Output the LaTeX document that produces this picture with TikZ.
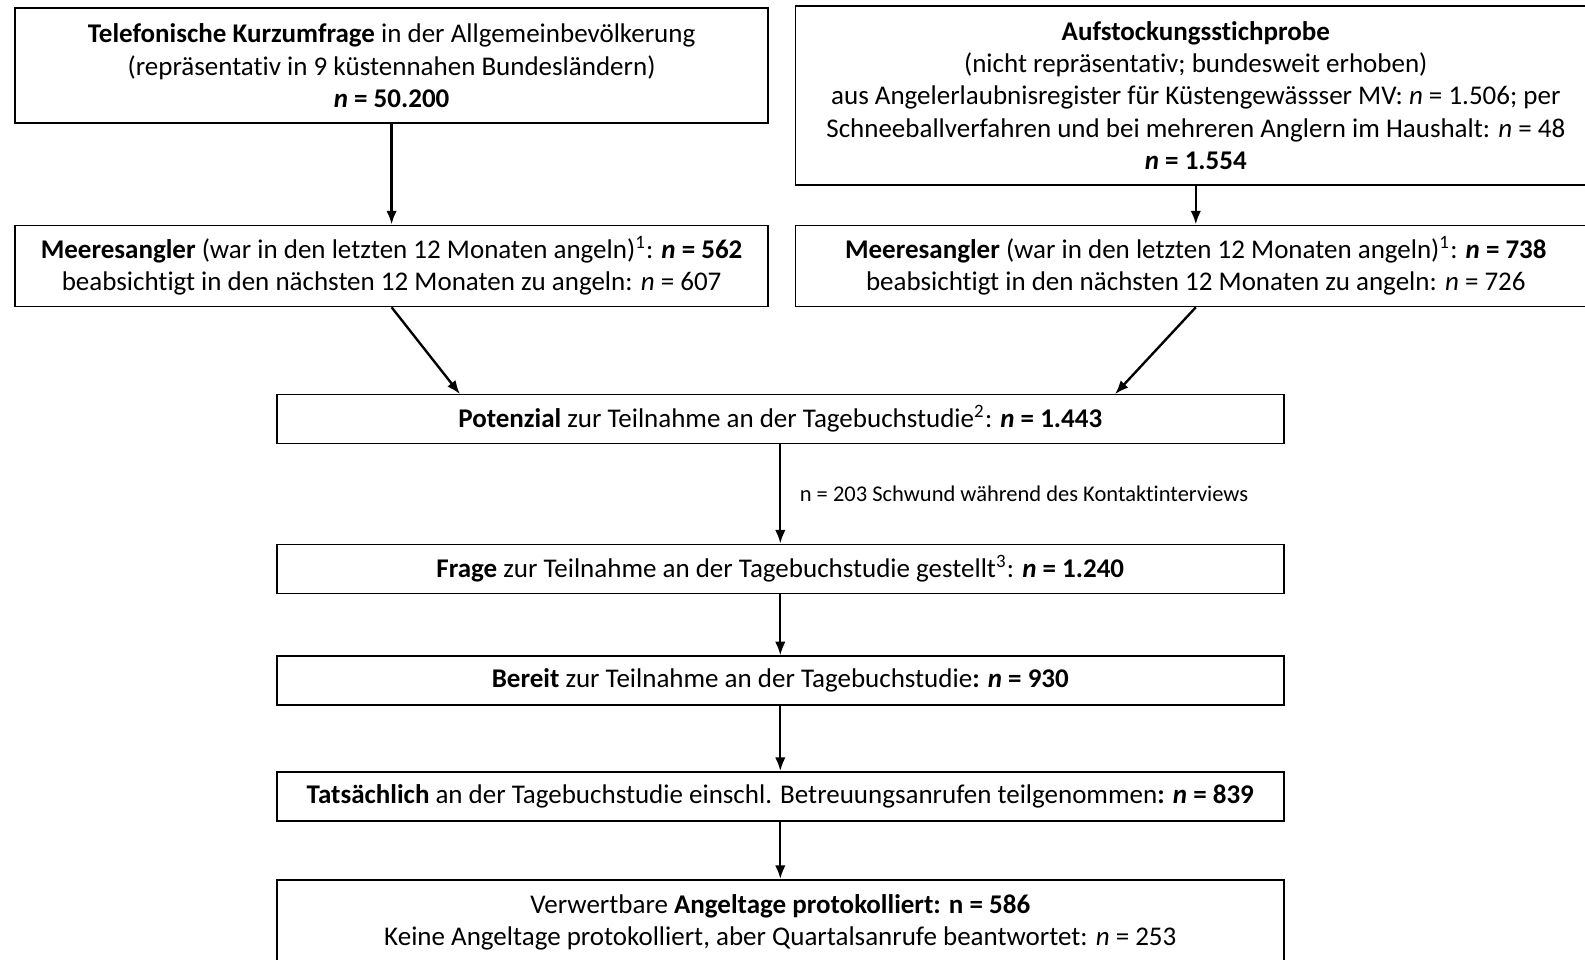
\documentclass[tikz,border=0pt]{standalone}
\usepackage{fontspec}
\setmainfont{Carlito}[Ligatures={NoCommon}]
\usetikzlibrary{arrows.meta}

\begin{document}
\begin{tikzpicture}[x=0.4pt, y=-0.4pt, >={Latex[length=5.5pt,width=4.2pt]}, line width=0.7pt,
	stage/.style={draw, rectangle, align=center, inner sep=0pt, font=\fontsize{10.8}{12.9}\selectfont},
	wide/.style={stage, minimum width=402.7pt, minimum height=19.6pt},
	flow/.style={->, line width=0.95pt}]
			\useasboundingbox (0,0) rectangle (1585,959);
			\clip (0,0) rectangle (1585,959);
			
			\node[stage, minimum width=301.2pt, minimum height=46pt] (tel) at (391.6,65.7) {\textbf{Telefonische Kurzumfrage} in der Allgemeinbevölkerung\\(repräsentativ in 9 küstennahen Bundesländern)\\\textbf{\textit{n} = 50.200}};
			\node[stage, minimum width=320.2pt, minimum height=71.6pt] (auf) at (1195.8,95.5) {\textbf{Aufstockungsstichprobe}\\(nicht repräsentativ; bundesweit erhoben)\\aus Angelerlaubnisregister für Küstengewässser MV: \textit{n} = 1.506; per\\Schneeballverfahren und bei mehreren Anglern im Haushalt: \textit{n} = 48\\\textbf{\textit{n} = 1.554}};
			
			\node[stage, minimum width=301.2pt, minimum height=32.4pt] (ml) at (391.6,265.9) {\textbf{Meeresangler} (war in den letzten 12 Monaten angeln)\textsuperscript{1}: \textbf{\textit{n} = 562}\\beabsichtigt in den nächsten 12 Monaten zu angeln: \textit{n} = 607};
			\node[stage, minimum width=320.2pt, minimum height=32.4pt] (mr) at (1195.8,265.9) {\textbf{Meeresangler} (war in den letzten 12 Monaten angeln)\textsuperscript{1}: \textbf{\textit{n} = 738}\\beabsichtigt in den nächsten 12 Monaten zu angeln: \textit{n} = 726};
			
			\node[wide] (pot) at (780.3,419) {\textbf{Potenzial} zur Teilnahme an der Tagebuchstudie\textsuperscript{2}: \textbf{\textit{n} = 1.443}};
			\node[wide] (frage) at (780.3,569) {\textbf{Frage} zur Teilnahme an der Tagebuchstudie gestellt\textsuperscript{3}: \textbf{\textit{n} = 1.240}};
			\node[wide] (bereit) at (780.3,680.8) {\textbf{Bereit} zur Teilnahme an der Tagebuchstudie\textbf{: \textit{n} = 930}};
			\node[wide] (tat) at (780.3,796.5) {\textbf{Tatsächlich} an der Tagebuchstudie einschl. Betreuungsanrufen teilgenommen\textbf{: \textit{n} = 839}};
			\node[wide, minimum height=33.6pt] (verw) at (780.3,922) {Verwertbare \textbf{Angeltage protokolliert: n = 586}\\Keine Angeltage protokolliert, aber Quartalsanrufe beantwortet: \textit{n} = 253};
			
			\coordinate (potl) at (460,394.2);
			\coordinate (potr) at (1115,394.2);
			
			\draw[flow] (tel) to (ml);
			\draw[flow] (auf) to (mr);
			\draw[flow] (ml.south) to (potl);
			\draw[flow] (mr.south) to (potr);
			\draw[flow] (pot) to node[right, xshift=4pt, font=\fontsize{9}{10}\selectfont] {n = 203 Schwund während des Kontaktinterviews} (frage);
			\draw[flow] (frage) to (bereit);
			\draw[flow] (bereit) to (tat);
			\draw[flow] (tat) to (verw);
		\end{tikzpicture}
\end{document}
